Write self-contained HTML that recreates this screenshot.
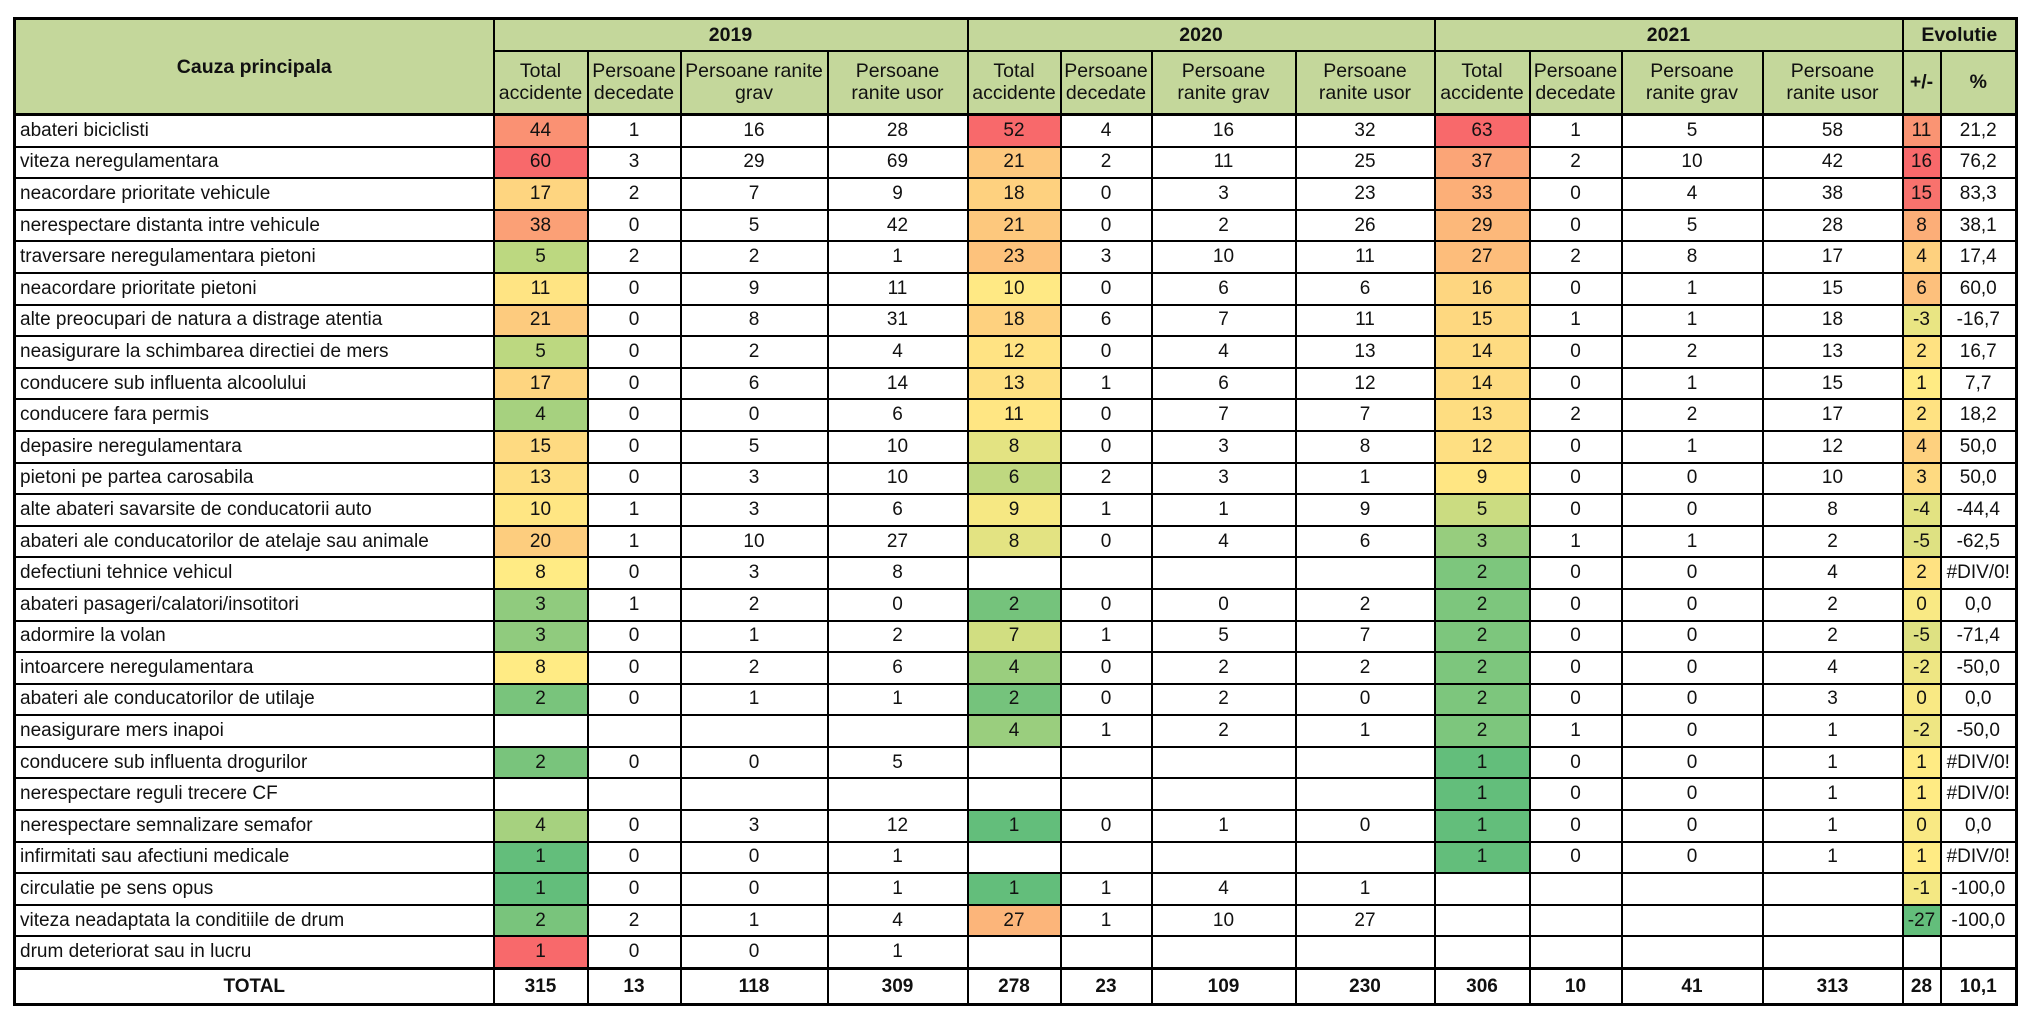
<!DOCTYPE html>
<html><head><meta charset="utf-8">
<style>
html,body{margin:0;padding:0;background:#fff;width:2034px;height:1027px;overflow:hidden}
table{position:absolute;left:13px;top:17px;border-collapse:collapse;table-layout:fixed;font-family:"Liberation Sans",sans-serif;font-size:19px;color:#111}
td,th{border:2px solid #000;padding:0;text-align:center;white-space:nowrap;overflow:hidden}
th{background:#c4d79b;font-weight:normal;line-height:22px;font-size:19.5px}
th.b{font-weight:bold}
tr.d td{height:29.6px;line-height:26px}
td.l{text-align:left;padding-left:4px}
tr.t td{height:33px;font-weight:bold;border-top:3px solid #000}
table{border:3px solid #000}
</style></head><body>
<table id="t">
<colgroup>
<col style="width:479px"><col style="width:94px"><col style="width:93px"><col style="width:147px"><col style="width:140px"><col style="width:93px"><col style="width:91px"><col style="width:144px"><col style="width:139px"><col style="width:95px"><col style="width:92px"><col style="width:141px"><col style="width:140px"><col style="width:38px"><col style="width:76px">
</colgroup>
<tr style="height:32px"><th class="b" rowspan="2" style="border-bottom:3px solid #000">Cauza principala</th><th class="b" colspan="4">2019</th><th class="b" colspan="4">2020</th><th class="b" colspan="4">2021</th><th class="b" colspan="2">Evolutie</th></tr>
<tr style="height:64px" id="h2"></tr>
</table>
<script>
var sub=["Total<br>accidente","Persoane<br>decedate","Persoane ranite<br>grav","Persoane<br>ranite usor"];
var sub2=["Total<br>accidente","Persoane<br>decedate","Persoane<br>ranite grav","Persoane<br>ranite usor"];
var h="";
sub.forEach(s=>h+="<th style='border-bottom:3px solid #000'>"+s+"</th>");
sub2.forEach(s=>h+="<th style='border-bottom:3px solid #000'>"+s+"</th>");
sub2.forEach(s=>h+="<th style='border-bottom:3px solid #000'>"+s+"</th>");
h+="<th class='b' style='border-bottom:3px solid #000'>+/-</th><th class='b' style='border-bottom:3px solid #000'>%</th>";
document.getElementById("h2").innerHTML=h;
var D=[
["abateri biciclisti",[44,1,16,28],[52,4,16,32],[63,1,5,58],11,"21,2"],
["viteza neregulamentara",[60,3,29,69],[21,2,11,25],[37,2,10,42],16,"76,2"],
["neacordare prioritate vehicule",[17,2,7,9],[18,0,3,23],[33,0,4,38],15,"83,3"],
["nerespectare distanta intre vehicule",[38,0,5,42],[21,0,2,26],[29,0,5,28],8,"38,1"],
["traversare neregulamentara pietoni",[5,2,2,1],[23,3,10,11],[27,2,8,17],4,"17,4"],
["neacordare prioritate pietoni",[11,0,9,11],[10,0,6,6],[16,0,1,15],6,"60,0"],
["alte preocupari de natura a distrage atentia",[21,0,8,31],[18,6,7,11],[15,1,1,18],-3,"-16,7"],
["neasigurare la schimbarea directiei de mers",[5,0,2,4],[12,0,4,13],[14,0,2,13],2,"16,7"],
["conducere sub influenta alcoolului",[17,0,6,14],[13,1,6,12],[14,0,1,15],1,"7,7"],
["conducere fara permis",[4,0,0,6],[11,0,7,7],[13,2,2,17],2,"18,2"],
["depasire neregulamentara",[15,0,5,10],[8,0,3,8],[12,0,1,12],4,"50,0"],
["pietoni pe partea carosabila",[13,0,3,10],[6,2,3,1],[9,0,0,10],3,"50,0"],
["alte abateri savarsite de conducatorii auto",[10,1,3,6],[9,1,1,9],[5,0,0,8],-4,"-44,4"],
["abateri ale conducatorilor de atelaje sau animale",[20,1,10,27],[8,0,4,6],[3,1,1,2],-5,"-62,5"],
["defectiuni tehnice vehicul",[8,0,3,8],null,[2,0,0,4],2,"#DIV/0!"],
["abateri pasageri/calatori/insotitori",[3,1,2,0],[2,0,0,2],[2,0,0,2],0,"0,0"],
["adormire la volan",[3,0,1,2],[7,1,5,7],[2,0,0,2],-5,"-71,4"],
["intoarcere neregulamentara",[8,0,2,6],[4,0,2,2],[2,0,0,4],-2,"-50,0"],
["abateri ale conducatorilor de utilaje",[2,0,1,1],[2,0,2,0],[2,0,0,3],0,"0,0"],
["neasigurare mers inapoi",null,[4,1,2,1],[2,1,0,1],-2,"-50,0"],
["conducere sub influenta drogurilor",[2,0,0,5],null,[1,0,0,1],1,"#DIV/0!"],
["nerespectare reguli trecere CF",null,null,[1,0,0,1],1,"#DIV/0!"],
["nerespectare semnalizare semafor",[4,0,3,12],[1,0,1,0],[1,0,0,1],0,"0,0"],
["infirmitati sau afectiuni medicale",[1,0,0,1],null,[1,0,0,1],1,"#DIV/0!"],
["circulatie pe sens opus",[1,0,0,1],[1,1,4,1],null,-1,"-100,0"],
["viteza neadaptata la conditiile de drum",[2,2,1,4],[27,1,10,27],null,-27,"-100,0"],
["drum deteriorat sau in lucru",[1,0,0,1],null,null,null,""]
];
function med(a){a=a.slice().sort((x,y)=>x-y);var n=a.length;return n%2?a[(n-1)/2]:(a[n/2-1]+a[n/2])/2}
function mix(a,b,t){return "rgb("+a.map((v,i)=>Math.round(v+(b[i]-v)*t)).join(",")+")"}
var G=[99,190,123],Y=[255,235,132],R=[248,105,107];
function scale(vals){var mn=Math.min(...vals),mx=Math.max(...vals),md=med(vals);
 return function(v){if(v<=md)return mix(G,Y,md==mn?1:(v-mn)/(md-mn));return mix(Y,R,(v-md)/(mx-md));}}
var sc=[0,1,2].map(k=>scale(D.filter(r=>r[k+1]&&!(k==0&&r[0].startsWith("drum"))).map(r=>r[k+1][0])));
var se=scale(D.filter(r=>r[4]!==null).map(r=>r[4]));
var html="";
D.forEach(function(r,i){
 var s="<tr class='d'><td class='l'>"+r[0]+"</td>";
 for(var k=0;k<3;k++){var a=r[k+1];
  if(!a){s+="<td></td><td></td><td></td><td></td>";continue;}
  var c=(k==0&&r[0].startsWith("drum"))?"rgb(248,105,107)":sc[k](a[0]);
  s+="<td style='background:"+c+"'>"+a[0]+"</td><td>"+a[1]+"</td><td>"+a[2]+"</td><td>"+a[3]+"</td>";}
 s+=r[4]===null?"<td></td><td></td>":"<td style='background:"+se(r[4])+"'>"+r[4]+"</td><td>"+r[5]+"</td>";
 html+=s+"</tr>";});
html+="<tr class='t'><td>TOTAL</td><td>315</td><td>13</td><td>118</td><td>309</td><td>278</td><td>23</td><td>109</td><td>230</td><td>306</td><td>10</td><td>41</td><td>313</td><td>28</td><td>10,1</td></tr>";
document.getElementById("t").insertAdjacentHTML("beforeend",html);
</script>
</body></html>
